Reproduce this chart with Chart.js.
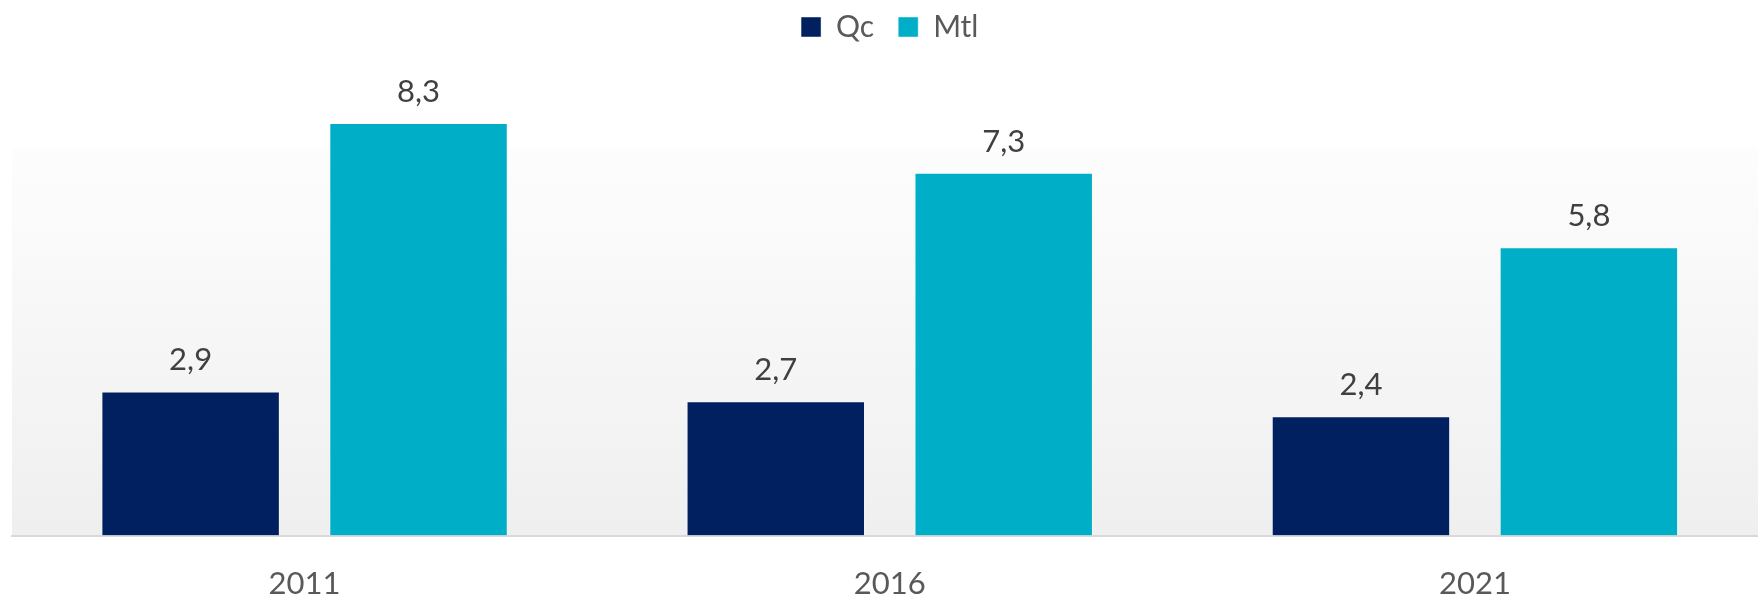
<!DOCTYPE html>
<html>
<head>
<meta charset="utf-8">
<script src="https://cdn.jsdelivr.net/npm/chart.js@4.4.1/dist/chart.umd.min.js"></script>
<style>
  html, body { margin: 0; padding: 0; background: #fff; overflow: hidden; }
  #wrap { position: relative; width: 1772px; height: 598px; }
</style>
</head>
<body>
<div id="wrap"><canvas id="chart"></canvas></div>
<script>
const years = ['2011', '2016', '2021'];
const qc = [2.9, 2.7, 2.4];
const mtl = [8.3, 7.3, 5.8];

// soft grey backdrop behind the bars, fading to white towards the top
const backdrop = {
    id: 'backdrop',
    beforeDraw(chart) {
        const { ctx, chartArea, scales } = chart;
        const top = scales.y.getPixelForValue(7.8);
        const g = ctx.createLinearGradient(0, top, 0, chartArea.bottom);
        g.addColorStop(0, '#fdfdfd');
        g.addColorStop(1, '#efefef');
        ctx.save();
        ctx.fillStyle = g;
        ctx.fillRect(chartArea.left, top, chartArea.right - chartArea.left, chartArea.bottom - top);
        ctx.restore();
    }
};

// value above each bar, with a decimal comma
const valueLabels = {
    id: 'valueLabels',
    afterDatasetsDraw(chart) {
        const { ctx } = chart;
        ctx.save();
        ctx.font = '31px Lato';
        ctx.fillStyle = '#404040';
        ctx.textAlign = 'center';
        ctx.textBaseline = 'alphabetic';
        chart.data.datasets.forEach((ds, i) => {
            chart.getDatasetMeta(i).data.forEach((bar, j) => {
                ctx.fillText(ds.data[j].toFixed(1).replace('.', ','), bar.x, bar.y - 21);
            });
        });
        ctx.restore();
    }
};

new Chart(document.getElementById('chart'), {
    type: 'bar',
    data: {
        labels: years,
        datasets: [{
            label: 'Qc',
            data: qc,
            backgroundColor: '#002060',
            borderColor: 'rgba(255,255,255,0.45)',
            borderWidth: 1,
            borderSkipped: 'bottom'
        }, {
            label: 'Mtl',
            data: mtl,
            backgroundColor: '#00AEC7',
            borderColor: 'rgba(255,255,255,0.45)',
            borderWidth: 1,
            borderSkipped: 'bottom'
        }]
    },
    options: {
        responsive: true,
        maintainAspectRatio: false,
        animation: false,
        categoryPercentage: 0.779,
        barPercentage: 0.783,
        layout: { padding: { left: 12, right: 4.5, top: -12, bottom: 0 } },
        plugins: {
            tooltip: { enabled: false },
            legend: {
                position: 'top',
                labels: {
                    boxWidth: 20,
                    boxHeight: 20,
                    padding: 24,
                    color: '#595959',
                    font: { family: 'Lato', size: 30 }
                }
            }
        },
        scales: {
            x: {
                grid: { display: false, drawTicks: true, tickLength: 34.5 },
                border: { display: true, color: '#d9d9d9', width: 2 },
                ticks: {
                    padding: 0,
                    color: '#595959',
                    font: { family: 'Lato', size: 31, lineHeight: '28px' }
                }
            },
            y: {
                display: false,
                min: 0,
                max: 9.73
            }
        }
    },
    plugins: [backdrop, valueLabels]
});
</script>
</body>
</html>
